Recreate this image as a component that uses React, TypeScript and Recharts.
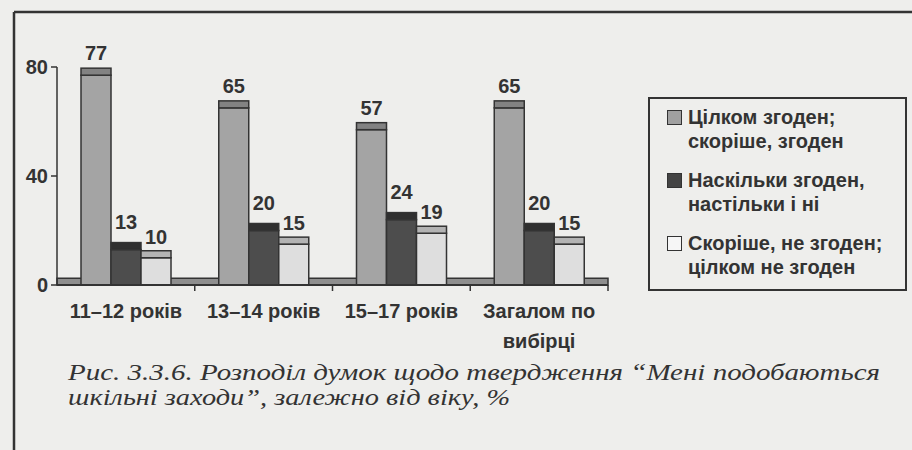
import * as React from 'react';
import {
  BarChart,
  Bar,
  XAxis,
  YAxis,
  ReferenceArea,
  LabelList,
} from 'recharts';

const categories = ['11–12 років', '13–14 років', '15–17 років', 'Загалом по вибірці'];
const agreeValues = [77, 65, 57, 65];
const neutralValues = [13, 20, 24, 20];
const disagreeValues = [10, 15, 19, 15];
const yTicks = [0, 40, 80];

const seriesNames = [
  ['Цілком згоден;', 'скоріше, згоден'],
  ['Наскільки згоден,', 'настільки і ні'],
  ['Скоріше, не згоден;', 'цілком не згоден'],
];

const captionLines = [
  'Рис. 3.3.6. Розподіл думок щодо твердження “Мені подобаються',
  'шкільні заходи”, залежно від віку, %',
];

const data = categories.map((name, i) => ({
  name,
  agree: agreeValues[i],
  neutral: neutralValues[i],
  disagree: disagreeValues[i],
}));

const W = 912;
const H = 450;
const MARGIN = { top: 67, right: 304, bottom: 105, left: 0 };
const Y_AXIS_W = 57;
const PLOT_W = W - MARGIN.left - MARGIN.right - Y_AXIS_W;
const BAND = PLOT_W / categories.length;
const INK = '#333';
const BG = '#eeeeec';
const SANS = '"Liberation Sans", Arial, sans-serif';
const SERIF = '"Liberation Serif", "Times New Roman", serif';

const COLORS = [
  { front: '#a4a4a4', cap: '#828282', swatch: '#a0a0a0' },
  { front: '#4d4d4d', cap: '#2f2f2f', swatch: '#444444' },
  { front: '#dedede', cap: '#b3b3b3', swatch: '#f6f6f6' },
];

const CAP = 7;

function Bar3D(props: any) {
  const { x, y, width, height, front, cap } = props;
  if (width == null || height == null) return null;
  return (
    <g>
      <rect x={x} y={y} width={width} height={height} fill={front} stroke={INK} strokeWidth={1.5} />
      <rect x={x} y={y - CAP} width={width} height={CAP} fill={cap} stroke={INK} strokeWidth={1.5} />
    </g>
  );
}

function CategoryTick(props: any) {
  const { x, y, payload } = props;
  const words = String(payload.value);
  const lines = words.startsWith('Загалом') ? ['Загалом по', 'вибірці'] : [words];
  return (
    <g>
      <line x1={x + BAND / 2} y1={y} x2={x + BAND / 2} y2={y + 6} stroke={INK} strokeWidth={1.5} />
      {lines.map((ln, i) => (
        <text
          key={i}
          x={x}
          y={y + 33 + i * 30}
          textAnchor="middle"
          fontFamily={SANS}
          fontWeight="bold"
          fontSize={20}
          fill={INK}
        >
          {ln}
        </text>
      ))}
    </g>
  );
}

const labelStyle = { fontSize: 20, fontWeight: 'bold', fill: INK, fontFamily: SANS };

function LegendBox() {
  return (
    <div
      style={{
        position: 'absolute',
        left: 648,
        top: 97,
        width: 255,
        height: 184,
        border: `2px solid ${INK}`,
        fontFamily: SANS,
        fontWeight: 'bold',
        fontSize: 20,
        color: INK,
        lineHeight: '24px',
        paddingTop: 6,
        boxSizing: 'content-box',
      }}
    >
      {seriesNames.map((lines, i) => (
        <div key={i} style={{ position: 'relative', paddingLeft: 38, marginBottom: 15 }}>
          <span
            style={{
              position: 'absolute',
              left: 17,
              top: 5,
              width: 13,
              height: 13,
              background: COLORS[i].swatch,
              border: `1px solid ${INK}`,
            }}
          />
          {lines.map((ln, j) => (
            <div key={j}>{ln}</div>
          ))}
        </div>
      ))}
    </div>
  );
}

export default function App() {
  return (
    <div style={{ position: 'absolute', left: 0, top: 0, width: W, height: H, background: BG, overflow: 'hidden' }}>
      <BarChart width={W} height={H} data={data} margin={MARGIN} barGap={0} barSize={30}>
        <ReferenceArea y1={0} y2={2.5} fill="#8e8e8e" fillOpacity={1} stroke={INK} strokeWidth={1.5} />
        <XAxis
          dataKey="name"
          height={60}
          axisLine={{ stroke: INK, strokeWidth: 2 }}
          tickLine={false}
          tickSize={0}
          tickMargin={0}
          interval={0}
          tick={<CategoryTick />}
        />
        <YAxis
          width={Y_AXIS_W}
          domain={[0, 80]}
          ticks={yTicks}
          axisLine={{ stroke: INK, strokeWidth: 1.5 }}
          tickLine={{ stroke: INK, strokeWidth: 1.5 }}
          tickSize={6}
          tickMargin={3}
          tick={{ fontSize: 20, fontWeight: 'bold', fill: INK, fontFamily: SANS }}
        />
        <Bar
          dataKey="agree"
          isAnimationActive={false}
          shape={(p: any) => <Bar3D {...p} front={COLORS[0].front} cap={COLORS[0].cap} />}
        >
          <LabelList dataKey="agree" position="top" offset={15} style={labelStyle} />
        </Bar>
        <Bar
          dataKey="neutral"
          isAnimationActive={false}
          shape={(p: any) => <Bar3D {...p} front={COLORS[1].front} cap={COLORS[1].cap} />}
        >
          <LabelList dataKey="neutral" position="top" offset={21} style={labelStyle} />
        </Bar>
        <Bar
          dataKey="disagree"
          isAnimationActive={false}
          shape={(p: any) => <Bar3D {...p} front={COLORS[2].front} cap={COLORS[2].cap} />}
        >
          <LabelList dataKey="disagree" position="top" offset={14} style={labelStyle} />
        </Bar>
      </BarChart>

      <LegendBox />

      <svg
        width={W}
        height={H}
        style={{ position: 'absolute', left: 0, top: 0, pointerEvents: 'none' }}
      >
        <line x1={14} y1={12} x2={W} y2={12} stroke={INK} strokeWidth={2.5} />
        <line x1={14} y1={12} x2={14} y2={H} stroke={INK} strokeWidth={2.5} />
        <text
          x={68}
          y={380}
          fontFamily={SERIF}
          fontStyle="italic"
          fontSize={24}
          fill={INK}
          textLength={812}
          lengthAdjust="spacingAndGlyphs"
        >
          {captionLines[0]}
        </text>
        <text
          x={68}
          y={405}
          fontFamily={SERIF}
          fontStyle="italic"
          fontSize={24}
          fill={INK}
          textLength={442}
          lengthAdjust="spacingAndGlyphs"
        >
          {captionLines[1]}
        </text>
      </svg>
    </div>
  );
}
